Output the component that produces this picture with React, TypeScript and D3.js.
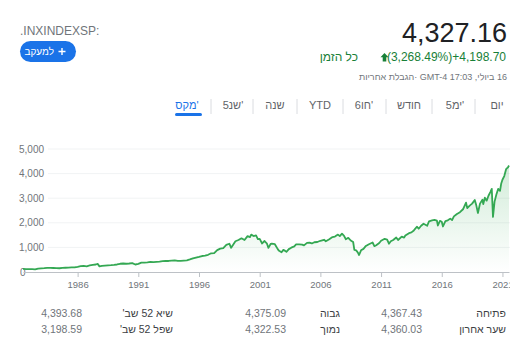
import React, { useEffect, useRef } from 'react';
import * as d3 from 'd3';

// decimal years and index values (S&P 500, max range)
const years: number[] = [
  1981.5, 1981.75, 1982.0, 1982.25, 1982.5, 1982.75, 1983.0, 1983.25, 1983.5, 1983.75,
  1984.0, 1984.25, 1984.5, 1984.75, 1985.0, 1985.25, 1985.5, 1985.75, 1986.0, 1986.25,
  1986.5, 1986.75, 1987.0, 1987.25, 1987.5, 1987.65, 1987.8, 1988.0, 1988.25, 1988.5,
  1988.75, 1989.0, 1989.25, 1989.5, 1989.75, 1990.0, 1990.25, 1990.5, 1990.75, 1991.0,
  1991.25, 1991.5, 1991.75, 1992.0, 1992.25, 1992.5, 1992.75, 1993.0, 1993.25, 1993.5,
  1993.75, 1994.0, 1994.25, 1994.5, 1994.75, 1995.0, 1995.25, 1995.5, 1995.75, 1996.0,
  1996.25, 1996.5, 1996.75, 1997.0, 1997.25, 1997.5, 1997.75, 1998.0, 1998.25, 1998.5,
  1998.65, 1998.8, 1999.0, 1999.25, 1999.5, 1999.75, 2000.0, 2000.2, 2000.3, 2000.5,
  2000.7, 2000.85, 2001.0, 2001.2, 2001.4, 2001.6, 2001.72, 2001.9, 2002.0, 2002.25,
  2002.5, 2002.6, 2002.8, 2002.95, 2003.1, 2003.2, 2003.4, 2003.6, 2003.85, 2004.0,
  2004.25, 2004.5, 2004.65, 2004.9, 2005.1, 2005.3, 2005.5, 2005.75, 2006.0, 2006.3,
  2006.45, 2006.7, 2007.0, 2007.2, 2007.45, 2007.6, 2007.78, 2007.95, 2008.1, 2008.3,
  2008.5, 2008.7, 2008.8, 2008.95, 2009.1, 2009.19, 2009.35, 2009.55, 2009.75, 2010.0,
  2010.3, 2010.45, 2010.6, 2010.85, 2011.0, 2011.3, 2011.5, 2011.65, 2011.8, 2012.0,
  2012.25, 2012.4, 2012.7, 2012.9, 2013.0, 2013.3, 2013.5, 2013.7, 2013.95, 2014.1,
  2014.3, 2014.5, 2014.8, 2014.95, 2015.2, 2015.4, 2015.6, 2015.68, 2015.85, 2016.0,
  2016.1, 2016.3, 2016.5, 2016.7, 2016.85, 2017.0, 2017.25, 2017.5, 2017.75, 2018.0,
  2018.1, 2018.3, 2018.5, 2018.72, 2018.85, 2018.98, 2019.15, 2019.35, 2019.42, 2019.55,
  2019.7, 2019.85, 2020.0, 2020.12, 2020.22, 2020.35, 2020.5, 2020.65, 2020.8, 2020.9,
  2021.0, 2021.15, 2021.3, 2021.45, 2021.54,
];
const closes: number[] = [
  125, 118, 120, 115, 108, 135, 145, 155, 168, 165,
  163, 158, 152, 166, 172, 180, 192, 186, 210, 238,
  245, 232, 265, 290, 305, 330, 230, 250, 262, 272,
  278, 290, 305, 335, 345, 335, 345, 360, 305, 330,
  380, 378, 390, 410, 405, 415, 420, 438, 450, 448,
  462, 475, 450, 455, 462, 470, 510, 555, 585, 615,
  650, 665, 700, 760, 765, 890, 950, 975, 1100, 1150,
  985, 1100, 1250, 1300, 1370, 1300, 1460, 1420, 1520, 1460,
  1490, 1340, 1350, 1160, 1260, 1150, 980, 1140, 1150, 1130,
  920, 860, 800, 900, 860, 820, 930, 990, 1040, 1120,
  1125, 1110, 1080, 1185, 1190, 1160, 1210, 1220, 1270, 1310,
  1250, 1320, 1420, 1440, 1520, 1460, 1560, 1470, 1330, 1390,
  1280, 1220, 900, 880, 780, 690, 880, 940, 1060, 1130,
  1200, 1050, 1090, 1180, 1270, 1350, 1320, 1150, 1250, 1300,
  1400, 1300, 1440, 1400, 1480, 1580, 1610, 1690, 1840, 1760,
  1880, 1960, 1880, 2060, 2100, 2120, 2090, 1890, 2080, 2040,
  1850, 2070, 2100, 2170, 2110, 2260, 2360, 2430, 2550, 2820,
  2600, 2700, 2780, 2930, 2700, 2400, 2780, 2940, 2760, 3020,
  2900, 3100, 3250, 3380, 2240, 2860, 3150, 3380, 3300, 3600,
  3750, 3900, 4180, 4250, 4327,
];

const yTicks: number[] = [0, 1000, 2000, 3000, 4000, 5000];
const xTicks: number[] = [1986, 1991, 1996, 2001, 2006, 2011, 2016, 2021];

const tabs: string[] = ["מקס'", "5שנ'", 'שנה', 'YTD', "6חו'", 'חודש', "5ימ'", 'יום'];
const tabCenters: number[] = [187, 233, 275, 320, 364, 409, 455, 497];
const tabSeparators: number[] = [211, 253, 297, 343, 386, 432, 475];

const statLabels: string[][] = [
  ['פתיחה', 'גבוה', "שיא 52 שב'"],
  ['שער אחרון', 'נמוך', "שפל 52 שב'"],
];
const statValues: string[][] = [
  ['4,367.43', '4,375.09', '4,393.68'],
  ['4,360.03', '4,322.53', '3,198.59'],
];

type Pt = { t: number; v: number };

const FONT = '"Liberation Sans", Arial, sans-serif';

const App: React.FC = () => {
  const ref = useRef<SVGSVGElement | null>(null);

  useEffect(() => {
    if (!ref.current) return;
    const svg = d3.select(ref.current);
    svg.selectAll('*').remove();
    svg.attr('font-family', FONT);

    const data: Pt[] = years.map((t, i) => ({ t, v: closes[i] }));

    // ---------- header ----------
    svg.append('text')
      .attr('x', 20).attr('y', 34.5)
      .attr('font-size', 12).attr('fill', '#70757a')
      .text('.INXINDEXSP:');

    svg.append('rect')
      .attr('x', 20).attr('y', 41).attr('width', 56).attr('height', 21)
      .attr('rx', 10.5).attr('fill', '#1a73e8');
    svg.append('text')
      .attr('x', 54).attr('y', 55)
      .attr('direction', 'rtl').attr('text-anchor', 'start')
      .attr('font-size', 10).attr('fill', '#fff')
      .text('למעקב');
    svg.append('path')
      .attr('d', 'M58.5,51.5h7M62,48v7')
      .attr('stroke', '#fff').attr('stroke-width', 1.4);

    svg.append('text')
      .attr('x', 507).attr('y', 41.5)
      .attr('text-anchor', 'end')
      .attr('font-size', 27).attr('fill', '#202124')
      .text('4,327.16');

    const green = '#188038';
    svg.append('text')
      .attr('x', 506).attr('y', 61)
      .attr('text-anchor', 'end')
      .attr('font-size', 12).attr('fill', green)
      .text('(3,268.49%)+4,198.70');
    svg.append('path')
      .attr('d', 'M384.5,53 L388.5,57.2 L386.3,57.2 L386.3,61.5 L382.7,61.5 L382.7,57.2 L380.5,57.2 Z')
      .attr('fill', green);
    svg.append('text')
      .attr('x', 358).attr('y', 61)
      .attr('direction', 'rtl').attr('text-anchor', 'start')
      .attr('font-size', 12).attr('fill', green)
      .text('כל הזמן');

    svg.append('text')
      .attr('x', 507).attr('y', 80)
      .attr('direction', 'rtl').attr('text-anchor', 'start')
      .attr('font-size', 9).attr('fill', '#70757a')
      .text('16 ביולי, 17:03 GMT-4 ·הגבלת אחריות');

    // ---------- tabs ----------
    tabs.forEach((label, i) => {
      svg.append('text')
        .attr('x', tabCenters[i]).attr('y', 109)
        .attr('text-anchor', 'middle')
        .attr('font-size', 11)
        .attr('fill', i === 0 ? '#1a73e8' : '#5f6368')
        .text(label);
    });
    tabSeparators.forEach(x => {
      svg.append('line')
        .attr('x1', x).attr('x2', x).attr('y1', 99).attr('y2', 114)
        .attr('stroke', '#dadce0');
    });
    svg.append('rect')
      .attr('x', 175).attr('y', 113).attr('width', 27).attr('height', 3)
      .attr('rx', 1.5).attr('fill', '#1a73e8');

    // ---------- chart ----------
    const left = 23, right = 509, top = 149, bottom = 272;
    const x = d3.scaleLinear().domain([years[0], years[years.length - 1]]).range([left, right]);
    const y = d3.scaleLinear().domain([0, 5000]).range([bottom, top]);

    const grid = svg.append('g');
    yTicks.filter(d => d > 0).forEach(d => {
      grid.append('line')
        .attr('x1', 48).attr('x2', right + 1)
        .attr('y1', y(d)).attr('y2', y(d))
        .attr('stroke', '#f1f3f4');
    });
    yTicks.forEach(d => {
      svg.append('text')
        .attr('x', d === 0 ? 20 : 19).attr('y', y(d)).attr('dy', '0.35em')
        .attr('font-size', 10).attr('fill', '#70757a')
        .text(d3.format(',')(d));
    });

    const defs = svg.append('defs');
    const grad = defs.append('linearGradient')
      .attr('id', 'areaFill')
      .attr('gradientUnits', 'userSpaceOnUse')
      .attr('x1', 0).attr('x2', 0)
      .attr('y1', y(d3.max(closes) as number)).attr('y2', bottom);
    grad.append('stop').attr('offset', 0).attr('stop-color', '#34a853').attr('stop-opacity', 0.22);
    grad.append('stop').attr('offset', 1).attr('stop-color', '#34a853').attr('stop-opacity', 0);
    defs.append('clipPath').attr('id', 'plotClip')
      .append('rect').attr('x', 0).attr('y', 0).attr('width', right + 1).attr('height', 360);

    const area = d3.area<Pt>().x(d => x(d.t)).y0(bottom).y1(d => y(d.v));
    const line = d3.line<Pt>().x(d => x(d.t)).y(d => y(d.v));

    svg.append('path').datum(data).attr('d', area).attr('fill', 'url(#areaFill)');

    // x axis
    const axis = svg.append('g')
      .attr('transform', `translate(0,${bottom})`)
      .attr('clip-path', 'url(#plotClip)')
      .call(d3.axisBottom(x).tickValues(xTicks).tickSize(5).tickSizeOuter(0).tickPadding(4).tickFormat(d3.format('d')));
    axis.select('.domain').attr('stroke', '#bdc1c6');
    axis.selectAll('.tick line').attr('stroke', '#bdc1c6');
    axis.selectAll('.tick text')
      .attr('fill', '#70757a').attr('font-size', 9.5).attr('font-family', FONT);

    svg.append('path').datum(data).attr('d', line)
      .attr('fill', 'none').attr('stroke', '#34a853')
      .attr('stroke-width', 1.8).attr('stroke-linejoin', 'round');

    // ---------- stats table ----------
    const labelRight = [506, 340, 173];
    const valueRight = [422, 286, 82];
    const rowY = [317, 333];
    statLabels.forEach((row, r) => {
      row.forEach((lab, c) => {
        svg.append('text')
          .attr('x', labelRight[c]).attr('y', rowY[r])
          .attr('direction', 'rtl').attr('text-anchor', 'start')
          .attr('font-size', 10.5).attr('fill', '#3c4043')
          .text(lab);
        svg.append('text')
          .attr('x', valueRight[c]).attr('y', rowY[r])
          .attr('text-anchor', 'end')
          .attr('font-size', 10.5).attr('fill', '#70757a')
          .text(statValues[r][c]);
      });
    });
  }, []);

  return (
    <svg
      ref={ref}
      width={520}
      height={360}
      style={{ position: 'absolute', left: 0, top: 0, background: '#fff' }}
    />
  );
};

export default App;
